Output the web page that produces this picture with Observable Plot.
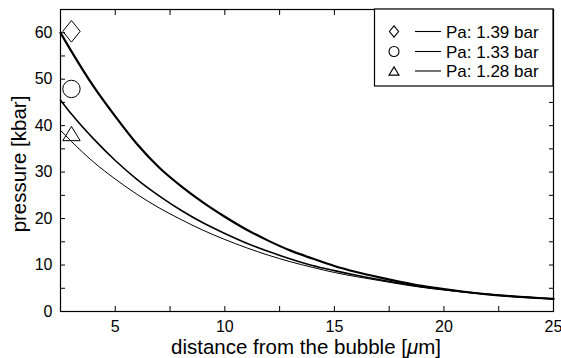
<!DOCTYPE html>
<html><head><meta charset="utf-8">
<script src="https://cdn.jsdelivr.net/npm/d3@7"></script>
<script src="https://cdn.jsdelivr.net/npm/@observablehq/plot@0.6"></script>
<style>
body{margin:0;background:#fff}
svg{font-family:"Liberation Sans",Arial,Helvetica,sans-serif}
</style>
</head><body><div id="chart"></div>
<script>
// distance from the bubble [µm]
const distance = [2.5,3,4,5,6,7,8,9,10,11,12,13,14,15,16,17,18,19,20,21,22,23,24,25];
// pressure [kbar] for each ambient pressure
const p139 = [60,56,48.5,42,36,31,27,23.5,20.4,17.6,15.2,13.1,11.4,9.8,8.5,7.4,6.4,5.5,4.8,4.2,3.7,3.3,3.0,2.7];
const p133 = [45.5,42.5,37.2,32.5,28.4,24.9,21.8,19.1,16.8,14.7,12.9,11.3,9.9,8.8,7.8,6.9,6.1,5.3,4.7,4.2,3.7,3.3,3.0,2.7];
const p128 = [39,36.6,32.2,28.5,25.2,22.3,19.8,17.5,15.5,13.7,12.1,10.7,9.5,8.4,7.5,6.7,5.9,5.2,4.7,4.1,3.7,3.3,3.0,2.7];
// measured points (markers)
const markerX = [3,3,3];
const markerY = [60.3,47.9,38.3];
const seriesNames = ["Pa: 1.39 bar","Pa: 1.33 bar","Pa: 1.28 bar"];
// ticks
const xTicks = [2.5,5,7.5,10,12.5,15,17.5,20,22.5,25];
const xLabels = [5,10,15,20,25];
const yTicks = [0,5,10,15,20,25,30,35,40,45,50,55,60,65];
const yLabels = [0,10,20,30,40,50,60];

const tallDiamond = {draw(ctx, size){const r=Math.sqrt(size/Math.PI);const w=r*1.0,h=r*1.24;ctx.moveTo(0,-h);ctx.lineTo(w,0);ctx.lineTo(0,h);ctx.lineTo(-w,0);ctx.closePath();}};
const flatTriangle = {draw(ctx, size){const r=Math.sqrt(size/Math.PI);const w=r,h=r*0.82;ctx.moveTo(0,-h);ctx.lineTo(w,h);ctx.lineTo(-w,h);ctx.closePath();}};
const roundCircle = {draw(ctx, size){const r=Math.sqrt(size/Math.PI);ctx.moveTo(r,0);ctx.arc(0,0,r,0,2*Math.PI);}};
const symbols = [tallDiamond, roundCircle, flatTriangle];
const widths = [2.2,1.6,1.0];
const allSeries = [p139,p133,p128];

const rows = allSeries.map(vals => distance.map((d,i)=>({x:d,y:vals[i]})));

const plot = Plot.plot({
  width:561, height:358,
  marginLeft:60, marginRight:8, marginTop:9, marginBottom:47,
  style:{fontFamily:'"Liberation Sans",Arial,sans-serif', color:"black", background:"white"},
  x:{domain:[2.5,25], label:null},
  y:{domain:[0,65], label:null},
  marks:[
    ...rows.map((r,i)=>Plot.line(r,{x:"x",y:"y",stroke:"black",strokeWidth:widths[i],curve:"monotone-x"})),
    ...markerX.map((mx,i)=>Plot.dot([{x:mx,y:markerY[i]}],{x:"x",y:"y",symbol:symbols[i],r:8.7,stroke:"black",strokeWidth:1,fill:"none"})),
    Plot.axisX(xTicks,{anchor:"bottom",tickSize:-5,text:null,label:null}),
    Plot.axisX(xTicks,{anchor:"top",tickSize:-5,text:null,label:null}),
    Plot.axisX(xLabels,{anchor:"bottom",tickSize:0,tickPadding:9,fontSize:16,label:null}),
    Plot.axisY(yTicks,{anchor:"left",tickSize:-5,text:null,label:null}),
    Plot.axisY(yTicks,{anchor:"right",tickSize:-5,text:null,label:null}),
    Plot.axisY(yLabels,{anchor:"left",tickSize:0,tickPadding:8,fontSize:16,label:null}),
    Plot.frame({stroke:"black",strokeWidth:1.2})
  ]
});
document.getElementById("chart").appendChild(plot);

const svg = d3.select(plot);
// axis labels
const xl = svg.append("text").attr("x",306).attr("y",354).attr("text-anchor","middle")
  .attr("font-size",20.5).attr("fill","black");
xl.append("tspan").text("distance from the bubble [");
xl.append("tspan").attr("font-style","italic").text("μ");
xl.append("tspan").text("m]");
svg.append("text").attr("transform","translate(26,164) rotate(-90)").attr("text-anchor","middle")
  .attr("font-size",20.5).attr("fill","black").text("pressure [kbar]");

// legend
const lg = svg.append("g");
lg.append("rect").attr("x",374.5).attr("y",9).attr("width",178.5).attr("height",77)
  .attr("fill","white").attr("stroke","black").attr("stroke-width",1.2);
const rowY = [31.5,51.5,71];
const legSyms = [
  d3.symbol().type(tallDiamond).size(Math.PI*4.6*4.6),
  d3.symbol().type(roundCircle).size(Math.PI*5*5),
  d3.symbol().type(flatTriangle).size(Math.PI*5*5)
];
seriesNames.forEach((name,i)=>{
  const y = rowY[i];
  lg.append("path").attr("d",legSyms[i]()).attr("transform",`translate(394,${y})`)
    .attr("fill","none").attr("stroke","black").attr("stroke-width",1.1);
  lg.append("line").attr("x1",415).attr("x2",441).attr("y1",y).attr("y2",y)
    .attr("stroke","black").attr("stroke-width",1.1);
  lg.append("text").attr("x",446).attr("y",y).attr("dy","0.36em").attr("font-size",17)
    .attr("text-anchor","start").attr("fill","black").text(name);
});
</script>
</body></html>
